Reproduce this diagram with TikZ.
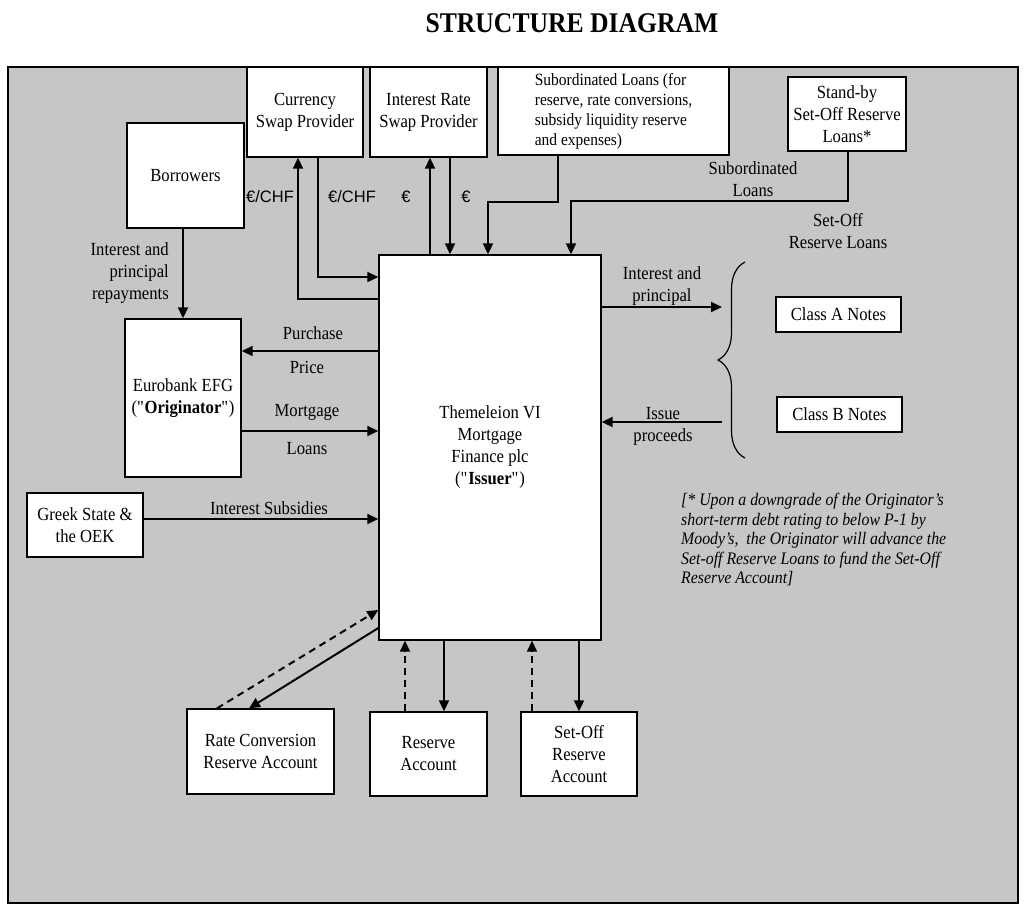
\documentclass[tikz,border=0pt]{standalone}
\usepackage{fontspec}
\setmainfont{Liberation Serif}[FakeStretch=0.9]
\newfontfamily\sansf{Liberation Sans}
\usetikzlibrary{arrows.meta,decorations.pathreplacing}
\definecolor{bggray}{RGB}{198,198,198}
\tikzset{
  box/.style={draw=black, fill=white, line width=1.4pt, inner sep=0pt, align=center,
    font=\fontsize{18.5}{22}\selectfont},
  lbl/.style={inner sep=0pt, align=center, font=\fontsize{18.5}{22}\selectfont},
  cur/.style={inner sep=0pt, font=\sansf\fontsize{16.5}{20}\selectfont},
  arr/.style={line width=2pt, -{Triangle[length=11pt,width=10pt]}},
  dsh/.style={arr, dash pattern=on 7pt off 5pt},
}
\begin{document}
\begin{tikzpicture}[x=1pt,y=-1pt]
\useasboundingbox (0,0) rectangle (1024,908);
\fill[white] (0,0) rectangle (1024,908);
\draw[fill=bggray, line width=1.2pt] (8,67) rectangle (1018,903);
\node[inner sep=0pt, font=\bfseries\fontsize{28.5}{32}\selectfont] (title) at (572,23) {STRUCTURE DIAGRAM};

% boxes
\node[box, minimum width=116pt, minimum height=90pt] (cur) at (305,112) {Currency\\Swap Provider};
\node[box, minimum width=117pt, minimum height=90pt] (irs) at (428.5,112) {Interest Rate\\Swap Provider};
\node[box, minimum width=231pt, minimum height=88pt] (sub) at (613.5,111) {};
\node[lbl, align=left, font=\fontsize{17.2}{20}\selectfont] (subt) at (sub) {Subordinated Loans (for\\reserve, rate conversions,\\subsidy liquidity reserve\\and expenses)};
\node[box, minimum width=118pt, minimum height=74pt] (sb) at (847,114) {Stand-by\\Set-Off Reserve\\Loans*};
\node[box, minimum width=117pt, minimum height=105pt] (bor) at (185.5,175.5) {Borrowers};
\node[box, minimum width=116pt, minimum height=158pt] (euro) at (183,398) {Eurobank EFG\\(\textquotedbl\textbf{Originator}\textquotedbl)};
\node[box, minimum width=116pt, minimum height=64pt] (greek) at (85,525) {Greek State \&\\the OEK};
\node[box, minimum width=222pt, minimum height=385pt] (iss) at (490,447.5) {Themeleion VI\\Mortgage\\Finance plc\\(\textquotedbl\textbf{Issuer}\textquotedbl)};
\node[box, minimum width=125pt, minimum height=35pt] (clA) at (838.5,314.5) {Class A Notes};
\node[box, minimum width=125pt, minimum height=35pt] (clB) at (839.5,414.5) {Class B Notes};
\node[box, minimum width=147pt, minimum height=85pt] (rcr) at (260.5,751.5) {Rate Conversion\\Reserve Account};
\node[box, minimum width=117pt, minimum height=84pt] (res) at (428.5,754) {Reserve\\Account};
\node[box, minimum width=116pt, minimum height=84pt] (sor) at (579,754) {Set-Off\\Reserve\\Account};

% connectors top
\draw[arr] (iss.west |- 0,299) -| (cur.south -| 298,0);
\draw[arr] (cur.south -| 318,0) |- (iss.west |- 0,277);
\draw[arr] (iss.north -| 430,0) -- (irs.south -| 430,0);
\draw[arr] (irs.south -| 450,0) -- (iss.north -| 450,0);
\coordinate (subk) at (488,202);
\coordinate (sbk) at (571,201);
\draw[arr] (sub.south -| 558,0) |- (subk) -- (iss.north -| subk);
\draw[arr] (sb.south -| 848,0) |- (sbk) -- (iss.north -| sbk);

% right side
\coordinate (bA) at (722,307);
\coordinate (bB) at (722,422);
\draw[arr] (iss.east |- bA) -- (bA);
\draw[arr] (bB) -- (iss.east |- bB);
\draw[line width=1.2pt, decorate, decoration={brace, amplitude=27pt}] (745,458) -- (745,262);

% left side
\draw[arr] (bor.south -| 183,0) -- (euro.north -| 183,0);
\draw[arr] (iss.west |- 0,351) -- (euro.east |- 0,351);
\draw[arr] (euro.east |- 0,431) -- (iss.west |- 0,431);
\draw[arr] (greek.east |- 0,519) -- (iss.west |- 0,519);

% bottom
\draw[dsh] (rcr.north -| 217,0) -- (iss.west |- 0,610);
\draw[arr] (iss.west |- 0,628) -- (rcr.north -| 249,0);
\draw[dsh] (res.north -| 405,0) -- (iss.south -| 405,0);
\draw[arr] (iss.south -| 444,0) -- (res.north -| 444,0);
\draw[dsh] (sor.north -| 532,0) -- (iss.south -| 532,0);
\draw[arr] (iss.south -| 579,0) -- (sor.north -| 579,0);

% labels
\node[cur] (c1) at (270,197) {€/CHF};
\node[cur] (c2) at (352,197) {€/CHF};
\node[cur] (c3) at (406,197) {€};
\node[cur] (c4) at (466,197) {€};
\node[lbl] (l1) at (753,179) {Subordinated\\Loans};
\node[lbl] (l2) at (838,231) {Set-Off\\Reserve Loans};
\node[lbl] (l3) at (662,286) {Interest and\\principal};
\node[lbl] (l4) at (663,426) {Issue\\proceeds};
\node[lbl] (l5) at (313,333) {Purchase};
\node[lbl] (l6) at (307,367) {Price};
\node[lbl] (l7) at (307,412) {Mortgage};
\node[lbl] (l8) at (307,449) {Loans};
\node[lbl] (l9) at (269,508) {Interest Subsidies};
\node[lbl, align=right, anchor=east] (l10) at (169,273) {Interest and\\principal\\repayments};
\node[inner sep=0pt, align=left, anchor=north west, font=\itshape\fontsize{17.6}{19.5}\selectfont] (fn) at (681,493)
  {[* Upon a downgrade of the Originator’s\\short-term debt rating to below P-1 by\\Moody’s,\ \ the Originator will advance the\\Set-off Reserve Loans to fund the Set-Off\\Reserve Account]};
\end{tikzpicture}
\end{document}
